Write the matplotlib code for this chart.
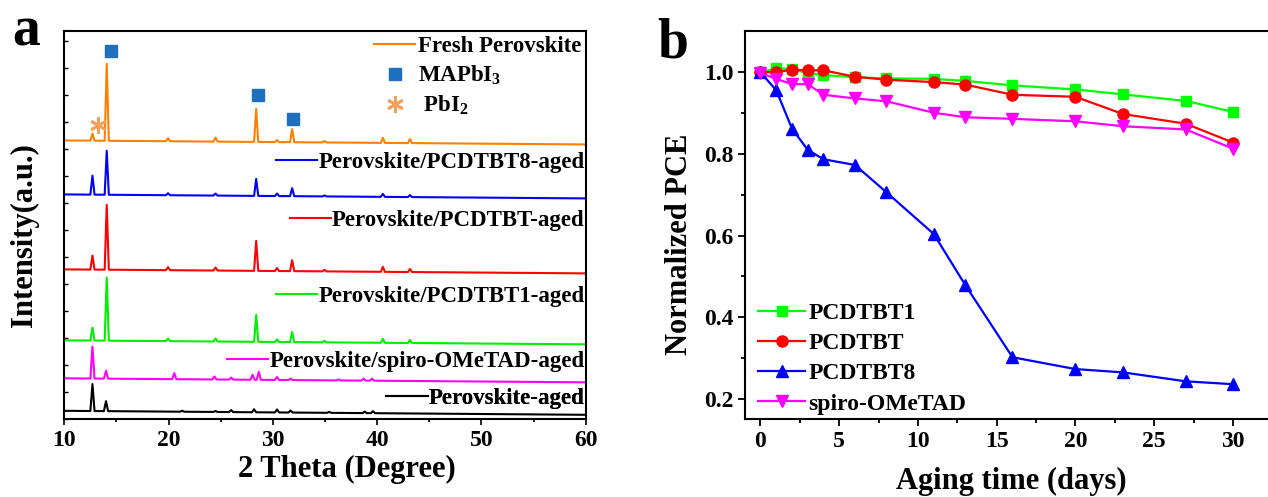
import numpy as np
import matplotlib
matplotlib.use('Agg')
import matplotlib.pyplot as plt
from matplotlib.lines import Line2D

plt.rcParams['font.family'] = ['Liberation Serif', 'DejaVu Serif']
plt.rcParams['font.weight'] = 'bold'
plt.rcParams['axes.labelweight'] = 'bold'
plt.rcParams['mathtext.fontset'] = 'custom'
plt.rcParams['mathtext.rm'] = 'Liberation Serif:bold'
plt.rcParams['mathtext.it'] = 'Liberation Serif:bold'
plt.rcParams['mathtext.bf'] = 'Liberation Serif:bold'

# ---- panel a: XRD, peak positions (deg) and heights (a.u. above own baseline)
mapbi3_pos = [12.7, 14.07, 19.95, 24.5, 28.4, 30.4, 31.85, 34.95, 40.55, 43.15]
fresh_h = [7, 77, 3, 4, 33, 2, 13, 1.5, 5, 4]
pcdtbt8_h = [19, 44, 2, 2, 17, 2.5, 8, 1, 3, 2]
pcdtbt_h = [14, 65, 3, 3, 30, 3, 11, 1.5, 5, 3]
pcdtbt1_h = [13, 63, 2.5, 3, 27, 2.5, 10, 1.5, 4, 3]
spiro_pos = [12.7, 14.0, 20.55, 24.4, 26.0, 28.05, 28.65, 30.4, 31.7, 36.3, 38.7, 39.5]
spiro_h = [32, 8, 6, 3, 2, 5, 8, 3, 1.5, 1, 2, 2]
aged_pos = [12.7, 14.0, 21.3, 24.5, 26.0, 28.2, 30.4, 31.7, 35.4, 38.8, 39.6]
aged_h = [27, 10, 1, 1, 2, 3, 3, 2, 1, 1.5, 2]

# stacking offsets and baseline drift read at 10 and 60 deg
offsets = {'fresh': 279, 'pcdtbt8': 225, 'pcdtbt': 150, 'pcdtbt1': 79, 'spiro': 41, 'aged': 8.5}
drift_x = [10, 60]
drift_y = [0, -4]

# peak markers
mapbi3_mark_x = [14.45, 28.55, 31.95]
mapbi3_mark_y = [368, 324, 300]
pbi2_mark_x = [13.2]
pbi2_mark_y = [294]

# ---- panel b: normalized PCE vs aging time
days = [0, 1, 2, 3, 4, 6, 8, 11, 13, 16, 20, 23, 27, 30]
pce_pcdtbt1 = [1.0, 1.01, 1.008, 0.998, 0.993, 0.988, 0.985, 0.984, 0.979, 0.968, 0.958, 0.946, 0.93, 0.903]
pce_pcdtbt = [1.0, 1.001, 1.006, 1.005, 1.005, 0.989, 0.982, 0.976, 0.97, 0.945, 0.94, 0.898, 0.874, 0.828]
pce_pcdtbt8 = [1.0, 0.956, 0.862, 0.81, 0.787, 0.773, 0.706, 0.604, 0.479, 0.302, 0.273, 0.265, 0.243, 0.236]
pce_spiro = [0.998, 0.984, 0.971, 0.971, 0.945, 0.936, 0.929, 0.901, 0.89, 0.886, 0.88, 0.868, 0.86, 0.813]

W, H = 1268, 497
fig = plt.figure(figsize=(W / 100, H / 100), dpi=100)


def px_axes(x0, x1, ytop, ybot):
    return fig.add_axes([x0 / W, 1 - ybot / H, (x1 - x0) / W, (ybot - ytop) / H])


def trace(pos, h, half=0.2):
    xs = [10.0]
    ys = [0.0]
    for p, v in zip(pos, h):
        xs += [p - half, p, p + half]
        ys += [0.0, v, 0.0]
    xs.append(60.0)
    ys.append(0.0)
    xs = np.array(xs)
    return xs, np.array(ys) + np.interp(xs, drift_x, drift_y)


# ================= panel a
ax = px_axes(64.3, 585.7, 31.5, 419.3)
lw = 1.5
green_a = '#00EE00'
series = [
    (mapbi3_pos, fresh_h, offsets['fresh'], '#FF8000'),
    (mapbi3_pos, pcdtbt8_h, offsets['pcdtbt8'], '#0000FF'),
    (mapbi3_pos, pcdtbt_h, offsets['pcdtbt'], '#FF0000'),
    (mapbi3_pos, pcdtbt1_h, offsets['pcdtbt1'], green_a),
    (spiro_pos, spiro_h, offsets['spiro'], '#FF00FF'),
    (aged_pos, aged_h, offsets['aged'], '#000000'),
]
for pos, h, off, c in series:
    xs, ys = trace(pos, h)
    ax.plot(xs, ys + off, color=c, lw=lw)

ax.plot(mapbi3_mark_x, mapbi3_mark_y, 's', color='#1E6FBE', ms=9, ls='none')
ax.plot(pbi2_mark_x, pbi2_mark_y, marker=(6, 2, 0), color='#F5A05A', ms=12, mew=2, ls='none')

ax.set_xlim(10, 60)
ax.set_ylim(0, 388)
ax.set_xticks([10, 20, 30, 40, 50, 60])
ax.set_xticks([15, 25, 35, 45, 55], minor=True)
ax.set_yticks(np.arange(0, 380, 27))
ax.tick_params(axis='x', which='major', direction='out', length=4, width=1.2, labelsize=17, top=False, pad=4)
ax.tick_params(axis='x', which='minor', direction='out', length=2.5, width=1.2, top=False)
ax.tick_params(axis='y', direction='in', length=3, width=1, labelleft=False, right=False)
for s in ax.spines.values():
    s.set_linewidth(1.5)
ax.set_xlabel('2 Theta (Degree)', fontsize=22)
ax.xaxis.set_label_coords(0.542, -0.092)
ax.set_ylabel('Intensity(a.u.)', fontsize=22, va='center')
ax.yaxis.set_label_coords(-0.077, 0.474)

fs = 16.5
top_handles = [
    Line2D([], [], color='#FF8000', lw=1.5),
    Line2D([], [], marker='s', color='#1E6FBE', ms=9, ls='none'),
    Line2D([], [], marker=(6, 2, 0), color='#F5A05A', ms=12, mew=2, ls='none'),
]
leg = ax.legend(top_handles, ['Fresh Perovskite', r'MAPbI$_3$', r' PbI$_2$'],
                loc='upper right', bbox_to_anchor=(1.0, 1.0), frameon=False, fontsize=fs,
                handlelength=1.8, handletextpad=0.1, borderaxespad=0.05, borderpad=0.15,
                labelspacing=0.3)
ax.add_artist(leg)

trace_labels = [
    ('Perovskite/PCDTBT8-aged', '#0000FF', 162.7),
    ('Perovskite/PCDTBT-aged', '#FF0000', 220.7),
    ('Perovskite/PCDTBT1-aged', green_a, 296.7),
    ('Perovskite/spiro-OMeTAD-aged', '#FF00FF', 361.7),
    ('Perovskite-aged', '#000000', 398.3),
]
for text, c, ypx in trace_labels:
    yfrac = (419.3 - ypx) / (419.3 - 31.5)
    lg = ax.legend([Line2D([], [], color=c, lw=1.5)], [text], loc='center right',
                   bbox_to_anchor=(1.0, yfrac), frameon=False, fontsize=fs,
                   handlelength=1.8, handletextpad=0.05, borderaxespad=0.05, borderpad=0.0)
    ax.add_artist(lg)

# ================= panel b
bx = px_axes(745.3, 1275, 31.5, 419.3)
kw = dict(lw=1.6, ms=8)
bx.plot(days, pce_pcdtbt1, '-s', color='#00FF00', label='PCDTBT1', lw=1.6, ms=7)
bx.plot(days, pce_pcdtbt, '-o', color='#FF0000', label='PCDTBT', **kw)
bx.plot(days, pce_pcdtbt8, '-^', color='#0000FF', label='PCDTBT8', **kw)
bx.plot(days, pce_spiro, '-v', color='#FF00FF', label='spiro-OMeTAD', **kw)

bx.set_xlim(-0.965, (1275 - 760.5) / 15.75)
bx.set_ylim(0.15, 1.1)
bx.set_xticks([0, 5, 10, 15, 20, 25, 30])
bx.set_xticks([2.5, 7.5, 12.5, 17.5, 22.5, 27.5], minor=True)
bx.set_yticks([0.2, 0.4, 0.6, 0.8, 1.0])
bx.set_yticks([0.3, 0.5, 0.7, 0.9], minor=True)
bx.tick_params(which='major', direction='out', length=5, width=1.3, labelsize=17, top=False, right=False)
bx.tick_params(which='minor', direction='out', length=3, width=1.3, top=False, right=False)
for s in bx.spines.values():
    s.set_linewidth(1.5)
bx.spines['right'].set_visible(False)
bx.set_xlabel('Aging time (days)', fontsize=22)
bx.xaxis.set_label_coords(0.5016, -0.123)
bx.set_ylabel('Normalized PCE', fontsize=22, va='center')
bx.yaxis.set_label_coords(-0.1245, 0.452)
bx.legend(loc='lower left', bbox_to_anchor=(0.015, 0.0), frameon=False, fontsize=17,
          handlelength=2.0, handletextpad=0.15, borderaxespad=0.0, borderpad=0.2,
          labelspacing=0.37)

fig.text(12 / W, 1 - 45 / H, 'a', fontsize=40, ha='left', va='baseline')
fig.text(657 / W, 1 - 57 / H, 'b', fontsize=40, ha='left', va='baseline')

fig.savefig('out.png', dpi=100)
